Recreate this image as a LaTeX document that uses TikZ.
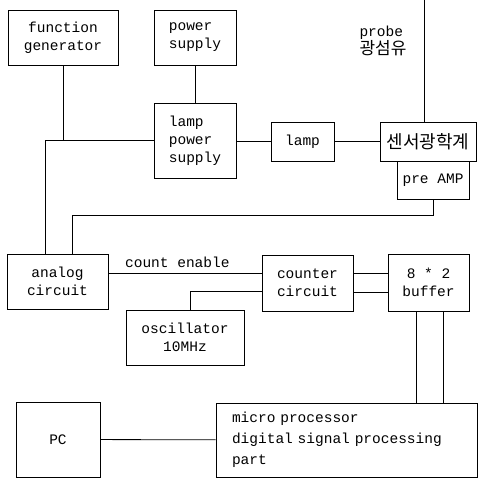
\documentclass[tikz,border=0pt]{standalone}
\usepackage{fontspec}
\setmonofont{Liberation Mono}
\newfontfamily\krfont{Noto Sans CJK KR}
\usepackage{tikz}
\usetikzlibrary{positioning}

\begin{document}
\begin{tikzpicture}[
  x=1pt, y=-1pt,
  every node/.style={draw, font=\ttfamily\fontsize{14.5}{18}\selectfont, align=center, inner sep=2pt},
  line width=0.8pt
]
\useasboundingbox (0,0) rectangle (477,479);

% Top row
\node[minimum width=110pt, minimum height=55pt] (fgen) at (63,37.5) {function\\generator};
\node[minimum width=82pt, minimum height=55pt, align=left] (psup) at (195,37.5) {power\\supply};
\node[minimum width=82pt, minimum height=75pt, align=left] (lps) at (195,140.5) {lamp\\power\\supply};
\node[minimum width=63pt, minimum height=39pt] (lamp) at (302.5,141.5) {lamp};

% Optics
\node[minimum width=96pt, minimum height=39pt, font=\krfont\fontsize{18}{18}\selectfont] (sensor) at (428,141.5) {센서광학계};
\node[minimum width=72pt, minimum height=38pt] (preamp) at (433,180) {pre AMP};
\node[draw=none, align=left, font=\ttfamily\fontsize{14.5}{17}\selectfont] (probe) at (383,41) {probe\\{\krfont\fontsize{17}{17}\selectfont 광섬유}};
\coordinate (ptop) at (424,0);

% Middle row
\node[minimum width=101pt, minimum height=55pt] (analog) at (57.5,281.5) {analog\\circuit};
\node[minimum width=91pt, minimum height=56pt] (counter) at (307.5,283) {counter\\circuit};
\node[minimum width=81pt, minimum height=57pt] (buffer) at (428.5,282.5) {8 * 2\\buffer};
\node[minimum width=118pt, minimum height=55pt] (osc) at (185,337.5) {oscillator\\10MHz};

% Bottom row
\node[minimum width=84pt, minimum height=75pt] (pc) at (58,439.5) {PC};
\node[minimum width=261pt, minimum height=74pt, text width=229pt, align=left, inner xsep=16pt, font=\ttfamily\fontsize{14.5}{21}\selectfont] (micro) at (346.5,440) {micro processor\\digital signal processing\\part};

% Junctions
\coordinate (j1) at (45,140);
\coordinate (j2) at (72,215);

% Connections
\draw (psup) -- (lps);
\draw (fgen.south) -- (fgen.south |- j1);
\draw (lps.west |- j1) -- (j1) -- (j1 |- analog.north);
\draw (lps.east |- lamp.west) -- (lamp.west);
\draw (lamp) -- (sensor);
\draw (ptop) -- (ptop |- sensor.north);
\draw (preamp.south) |- (j2) -- (j2 |- analog.north);
\draw ([yshift=8.5pt]analog.east) -- node[draw=none, above=3pt, pos=0.45]{count enable} ([yshift=10pt]counter.west);
\draw ([xshift=5pt]osc.north) |- ([yshift=-8pt]counter.west);
\draw ([yshift=10pt]counter.east) -- ([yshift=10pt]buffer.west |- counter.east);
\draw ([yshift=-9pt]counter.east) -- ([yshift=-9pt]buffer.west |- counter.east);
\draw ([xshift=-12.5pt]buffer.south) -- ([xshift=-12.5pt]buffer.south |- micro.north);
\draw ([xshift=14.5pt]buffer.south) -- ([xshift=14.5pt]buffer.south |- micro.north);
\draw (pc) -- (micro);
\end{tikzpicture}
\end{document}
